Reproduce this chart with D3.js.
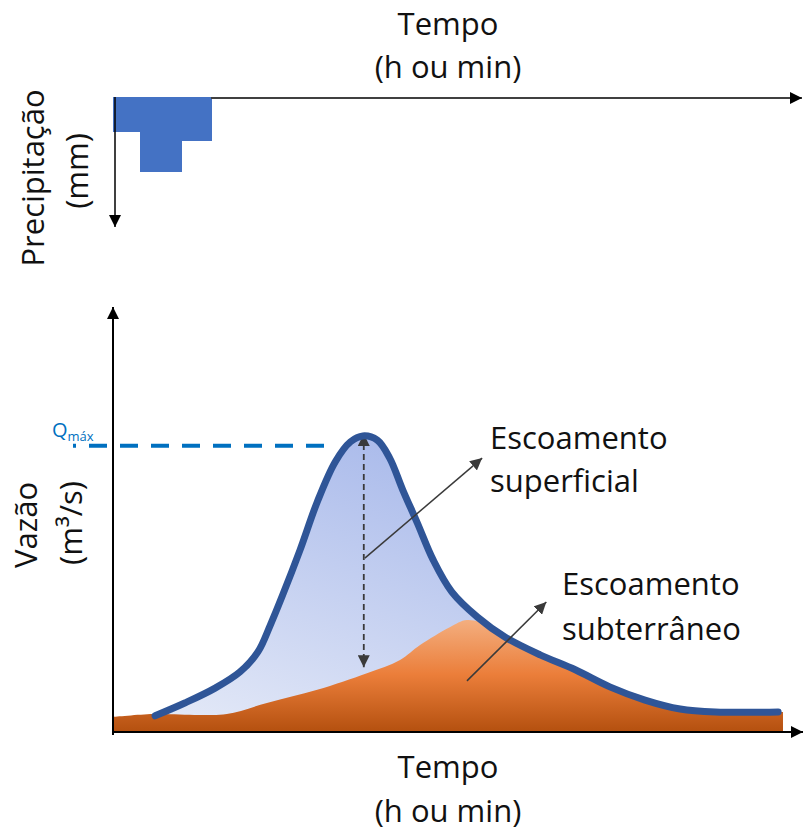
<!DOCTYPE html>
<html>
<head>
<meta charset="utf-8">
<script src="https://cdn.jsdelivr.net/npm/d3@7"></script>
<style>
  body { margin: 0; background: #fff; }
  svg { display: block; }
</style>
</head>
<body>
<div id="chart"></div>
<script>
// ---- data ----
// hyetograph: rain blocks (start / end time, depth in mm)
var rainStart = [0, 3.9, 9.9];
var rainEnd = [3.9, 9.9, 14.2];
var rainMm = [2.7, 5.8, 3.4];

// total hydrograph
var flowT = [6.1, 10.4, 14.8, 18.4, 21.0, 22.8, 24.6, 27.1, 29.6, 32.2, 34.4, 36.2, 38.3, 40.1, 42.0, 44.1, 46.4, 49.1, 52.8, 56.8, 61.9, 67.0, 72.0, 77.1, 82.2, 87.3, 96.4];
var flowQ = [3.8, 6.8, 10.3, 14.1, 18.8, 25.1, 32.2, 42.7, 54.0, 63.4, 68.1, 69.5, 68.5, 64.3, 56.8, 49.1, 40.4, 32.9, 27.0, 22.3, 18.1, 14.6, 10.6, 7.5, 5.4, 4.7, 4.7];

// base flow (escoamento subterrâneo)
var baseT = [0, 5.8, 12.6, 16.5, 22.3, 29.6, 36.8, 41.6, 44.5, 48.8, 51.3, 54.5, 56.8, 61.9, 67.0, 72.0, 77.1, 82.2, 87.3, 97.1];
var baseQ = [3.5, 4.2, 4.0, 4.2, 6.8, 9.9, 13.8, 16.9, 20.4, 24.6, 26.3, 25.0, 22.3, 18.1, 14.6, 10.6, 7.5, 5.4, 4.7, 4.7];

var peakT = 36.2, peakQ = 69.5, peakBaseQ = 15.2;
var qMaxMark = 67.2;

var labelFont = "'Open Sans', sans-serif";
var ink = "#111";
var axisGrey = "#404040";

var width = 803, height = 832;

var svg = d3.select("#chart")
    .append("svg")
    .attr("width", width)
    .attr("height", height);

var x = d3.scaleLinear().domain([0, 100]).range([113, 803]);
var yQ = d3.scaleLinear().domain([0, 100]).range([732, 306]);
var yP = d3.scaleLinear().domain([0, 10]).range([97, 227]);

var defs = svg.append("defs");

function addMarker(id, color, size) {
    defs.append("marker")
        .attr("id", id)
        .attr("viewBox", "0 0 10 10")
        .attr("refX", 10)
        .attr("refY", 5)
        .attr("markerUnits", "userSpaceOnUse")
        .attr("markerWidth", size)
        .attr("markerHeight", size)
        .attr("orient", "auto-start-reverse")
        .append("path")
        .attr("d", "M0,0 L10,5 L0,10 z")
        .attr("fill", color);
}
addMarker("arrBlack", "#000", 12);
addMarker("arrSmall", "#3a3a3a", 12);

var blueGrad = defs.append("linearGradient")
    .attr("id", "blueFill")
    .attr("x1", 0).attr("y1", 1)
    .attr("x2", 0.75).attr("y2", 0);
blueGrad.append("stop").attr("offset", 0).attr("stop-color", "#E6EBF8");
blueGrad.append("stop").attr("offset", 1).attr("stop-color", "#9DB0E8");

var orangeGrad = defs.append("linearGradient")
    .attr("id", "orangeFill")
    .attr("gradientUnits", "userSpaceOnUse")
    .attr("x1", 0).attr("y1", yQ(27))
    .attr("x2", 0).attr("y2", yQ(0));
orangeGrad.append("stop").attr("offset", 0).attr("stop-color", "#F4B183");
orangeGrad.append("stop").attr("offset", 0.5).attr("stop-color", "#EB7E3A");
orangeGrad.append("stop").attr("offset", 1).attr("stop-color", "#B4500F");

// ---- top: precipitation ----
var rain = rainMm.map(function(d, i) { return { t0: rainStart[i], t1: rainEnd[i], mm: d }; });

svg.selectAll(".rain")
    .data(rain)
    .enter().append("rect")
    .attr("class", "rain")
    .attr("x", function(d) { return Math.round(x(d.t0)); })
    .attr("width", function(d) { return Math.round(x(d.t1)) - Math.round(x(d.t0)) + 1; })
    .attr("y", yP(0))
    .attr("height", function(d) { return Math.round(yP(d.mm) - yP(0)); })
    .attr("fill", "#4472C4")
    .attr("shape-rendering", "crispEdges");

// time axis (top)
svg.append("line")
    .attr("x1", x(0) + 98).attr("x2", x(100) - 1)
    .attr("y1", yP(0) + 1).attr("y2", yP(0) + 1)
    .attr("stroke", axisGrey)
    .attr("stroke-width", 2)
    .attr("marker-end", "url(#arrBlack)");

// precipitation axis (pointing down)
svg.append("line")
    .attr("x1", x(0) + 2).attr("x2", x(0) + 2)
    .attr("y1", yP(0)).attr("y2", yP(10))
    .attr("stroke", "#000")
    .attr("stroke-width", 1.5)
    .attr("marker-end", "url(#arrBlack)");

svg.append("text")
    .attr("x", 448).attr("y", 35)
    .attr("text-anchor", "middle")
    .style("font-family", labelFont).style("font-size", "31px").attr("fill", ink)
    .text("Tempo");
svg.append("text")
    .attr("x", 448).attr("y", 78)
    .attr("text-anchor", "middle")
    .style("font-family", labelFont).style("font-size", "31px").attr("fill", ink)
    .text("(h ou min)");

svg.append("text")
    .attr("transform", "translate(44,178) rotate(-90)")
    .attr("text-anchor", "middle")
    .style("font-family", labelFont).style("font-size", "31px").attr("fill", ink)
    .text("Precipitação");
svg.append("text")
    .attr("transform", "translate(88,171) rotate(-90)")
    .attr("text-anchor", "middle")
    .style("font-family", labelFont).style("font-size", "31px").attr("fill", ink)
    .text("(mm)");

// ---- bottom: hydrograph ----
var flow = flowT.map(function(t, i) { return { t: t, q: flowQ[i] }; });
var base = baseT.map(function(t, i) { return { t: t, q: baseQ[i] }; });

var curve = d3.curveCatmullRom.alpha(0.5);

var flowArea = d3.area()
    .x(function(d) { return x(d.t); })
    .y0(yQ(0))
    .y1(function(d) { return yQ(d.q); })
    .curve(curve);

var flowLine = d3.line()
    .x(function(d) { return x(d.t); })
    .y(function(d) { return yQ(d.q); })
    .curve(curve);

svg.append("path")
    .datum(flow)
    .attr("d", flowArea)
    .attr("fill", "url(#blueFill)");

svg.append("path")
    .datum(base)
    .attr("d", flowArea)
    .attr("fill", "url(#orangeFill)");

// Qmáx dashed line
svg.append("line")
    .attr("x1", x(0) - 40).attr("x2", x(peakT) - 34)
    .attr("y1", yQ(qMaxMark)).attr("y2", yQ(qMaxMark))
    .attr("stroke", "#0070C0")
    .attr("stroke-width", 4)
    .attr("stroke-dasharray", "18,13")
    .attr("stroke-dashoffset", 15);

var qLabel = svg.append("text")
    .attr("x", 52).attr("y", yQ(qMaxMark) - 9)
    .style("font-family", labelFont).attr("fill", "#0070C0");
qLabel.append("tspan").style("font-size", "20px").text("Q");
qLabel.append("tspan").style("font-size", "13px").attr("dy", 4).text("máx");

// peak -> base double arrow
svg.append("line")
    .attr("x1", x(peakT) + 1).attr("x2", x(peakT) + 1)
    .attr("y1", yQ(peakQ) - 2).attr("y2", yQ(peakBaseQ))
    .attr("stroke", "#3a3a3a")
    .attr("stroke-width", 1.8)
    .attr("stroke-dasharray", "6,4")
    .attr("marker-start", "url(#arrSmall)")
    .attr("marker-end", "url(#arrSmall)");

// hydrograph outline
svg.append("path")
    .datum(flow)
    .attr("d", flowLine)
    .attr("fill", "none")
    .attr("stroke", "#2F5597")
    .attr("stroke-width", 7)
    .attr("stroke-linecap", "round")
    .attr("stroke-linejoin", "round");

// pointer arrows
svg.append("line")
    .attr("x1", x(36.5)).attr("y1", yQ(40.8))
    .attr("x2", x(53.5)).attr("y2", yQ(64.3))
    .attr("stroke", "#3a3a3a").attr("stroke-width", 1.5)
    .attr("marker-end", "url(#arrSmall)");
svg.append("line")
    .attr("x1", x(51.3)).attr("y1", yQ(12.0))
    .attr("x2", x(62.8)).attr("y2", yQ(30.5))
    .attr("stroke", "#3a3a3a").attr("stroke-width", 1.5)
    .attr("marker-end", "url(#arrSmall)");

// axes
svg.append("line")
    .attr("x1", x(0)).attr("x2", x(0))
    .attr("y1", yQ(0) + 3).attr("y2", yQ(100) + 1)
    .attr("stroke", "#000").attr("stroke-width", 2)
    .attr("marker-end", "url(#arrBlack)");
svg.append("line")
    .attr("x1", x(0)).attr("x2", x(100))
    .attr("y1", yQ(0)).attr("y2", yQ(0))
    .attr("stroke", "#000").attr("stroke-width", 2)
    .attr("marker-end", "url(#arrBlack)");

// labels
function label(px, py, s) {
    svg.append("text")
        .attr("x", px).attr("y", py)
        .style("font-family", labelFont).style("font-size", "31px").attr("fill", ink)
        .text(s);
}
label(490, 449, "Escoamento");
label(490, 492, "superficial");
label(562, 595, "Escoamento");
label(562, 640, "subterrâneo");

svg.append("text")
    .attr("x", 448).attr("y", 778)
    .attr("text-anchor", "middle")
    .style("font-family", labelFont).style("font-size", "31px").attr("fill", ink)
    .text("Tempo");
svg.append("text")
    .attr("x", 448).attr("y", 822)
    .attr("text-anchor", "middle")
    .style("font-family", labelFont).style("font-size", "31px").attr("fill", ink)
    .text("(h ou min)");

svg.append("text")
    .attr("transform", "translate(37,525) rotate(-90)")
    .attr("text-anchor", "middle")
    .style("font-family", labelFont).style("font-size", "31px").attr("fill", ink)
    .text("Vazão");
svg.append("text")
    .attr("transform", "translate(82,523) rotate(-90)")
    .attr("text-anchor", "middle")
    .style("font-family", labelFont).style("font-size", "31px").attr("fill", ink)
    .text("(m³/s)");
</script>
</body>
</html>
